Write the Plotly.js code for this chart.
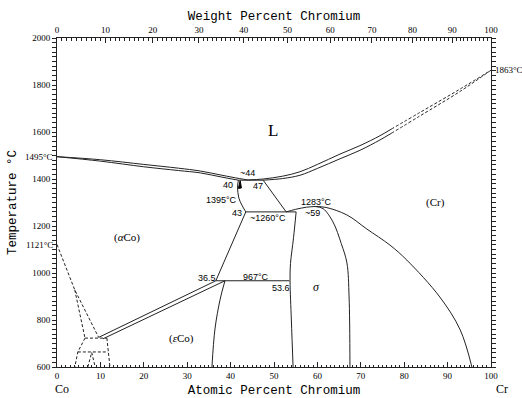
<!DOCTYPE html>
<html><head><meta charset="utf-8">
<script src="https://cdn.plot.ly/plotly-3.0.1.min.js"></script>
<style>body{margin:0;background:#fff}#chart{width:522px;height:398px}</style>
</head><body><div id="chart"></div>
<script>
// ---------- data (atomic % Cr, temperature °C) ----------
const liqLeftX = [0, 10, 20, 28, 33, 38, 42, 44];
const liqLeftT = [1495, 1482, 1462, 1446, 1434, 1416, 1402, 1396];
const solLeftX = [0, 10, 20, 28, 33, 38, 41.8];
const solLeftT = [1495, 1476, 1452, 1436, 1426, 1408, 1395];
const eutX = [41.8, 47.5];
const eutT = [1395, 1395];
const liqRightX = [44, 47.5, 52, 56, 60, 65.2, 69.8, 74.4, 77];
const liqRightT = [1396, 1400, 1412, 1431, 1462, 1506, 1542, 1584, 1612];
const liqRightDashX = [77, 83.6, 92.9, 100];
const liqRightDashT = [1612, 1683, 1783, 1863];
const solRightX = [47.5, 52, 56, 60, 65.2, 69.8, 74.4, 77];
const solRightT = [1395, 1402, 1416, 1445, 1486, 1522, 1566, 1594];
const solRightDashX = [77, 83.6, 92.9, 100];
const solRightDashT = [1594, 1668, 1773, 1863];
const crDropX = [47.5, 52.8];
const crDropT = [1395, 1260];
const crLeftX = [52.8, 55, 57.5, 59.5];
const crLeftT = [1260, 1271, 1280, 1283];
const crRightX = [59.5, 62, 66.8, 71.4, 76.7, 80.6, 88.2, 92.9, 95.6];
const crRightT = [1283, 1279, 1247, 1187, 1119, 1055, 898, 758, 600];
const sigRightX = [59.5, 61.3, 63.6, 65.5, 66.8, 67.3, 67.5];
const sigRightT = [1283, 1274, 1217, 1125, 1043, 898, 600];
const sigLeftX = [55.1, 54.5, 53.8, 53.7, 54.0, 54.4];
const sigLeftT = [1260, 1150, 1040, 967, 800, 600];
const perX = [43.5, 55.1];
const perT = [1260, 1260];
const aCoX = [43.5, 36.6];
const aCoT = [1260, 967];
const solvusX = [41.8, 41.6, 41.9, 42.6, 43.5];
const solvusT = [1395, 1366, 1319, 1289, 1260];
const wedgeX = [42.2, 41.8, 42.5, 42.2];
const wedgeT = [1393, 1360, 1362, 1393];
const eut967X = [36.6, 53.6];
const eut967T = [967, 967];
const dblUpperX = [36.6, 9.6];
const dblUpperT = [967, 726];
const dblLowerX = [38.7, 10.6];
const dblLowerT = [967, 720];
const epsRightX = [38.7, 37.6, 36.4, 35.7];
const epsRightT = [967, 889, 762, 600];
// dashed lines on the Co side
const curieX = [0, 4.1, 9.6];
const curieT = [1121, 928, 726];
const branchX = [4.1, 6.45];
const branchT = [928, 723];
const h723X = [6.45, 11.5];
const h723T = [723, 723];
const lowLeftX = [6.45, 4.8, 4.1];
const lowLeftT = [723, 664, 600];
const lowRightX = [11.5, 11.8, 12.2];
const lowRightT = [723, 664, 600];
const h664X = [4.8, 11.8];
const h664T = [664, 664];
const vX = [7.1, 8.0, 8.8];
const vT = [600, 662, 600];

// axis tick labels
const atTicks = [0, 10, 20, 30, 40, 50, 60, 70, 80, 90, 100];
const tTicks = [600, 800, 1000, 1200, 1400, 1600, 1800, 2000];
const wtTicks = [0, 10, 20, 30, 40, 50, 60, 70, 80, 90, 100];

const M_CR = 51.996, M_CO = 58.933;
function wtToAt(w) {
  if (w <= 0) return 0;
  if (w >= 100) return 100;
  const a = w / M_CR, b = (100 - w) / M_CO;
  return 100 * a / (a + b);
}
const wtMinor = [];
for (let w = 0; w <= 100; w++) wtMinor.push(wtToAt(w));

const LC = '#222';
function ln(x, y, dash, smooth) {
  const l = {color: LC, width: 1, dash: dash || 'solid'};
  if (smooth) { l.shape = 'spline'; l.smoothing = 1; }
  return {x: x, y: y, type: 'scatter', mode: 'lines', hoverinfo: 'skip', showlegend: false, line: l};
}
const DSH = '3px,2px';
const traces = [
  ln(liqLeftX, liqLeftT, null, true), ln(solLeftX, solLeftT, null, true), ln(eutX, eutT),
  ln(liqRightX, liqRightT, null, true), ln(liqRightDashX, liqRightDashT, DSH, true),
  ln(solRightX, solRightT, null, true), ln(solRightDashX, solRightDashT, DSH, true),
  ln(crDropX, crDropT), ln(crLeftX, crLeftT, null, true), ln(crRightX, crRightT, null, true),
  ln(sigRightX, sigRightT, null, true), ln(sigLeftX, sigLeftT, null, true),
  ln(perX, perT), ln(aCoX, aCoT), ln(solvusX, solvusT, null, true),
  ln(eut967X, eut967T), ln(dblUpperX, dblUpperT), ln(dblLowerX, dblLowerT),
  ln(epsRightX, epsRightT, null, true),
  ln(curieX, curieT, DSH), ln(branchX, branchT, DSH), ln(h723X, h723T, DSH),
  ln(lowLeftX, lowLeftT, DSH), ln(lowRightX, lowRightT, DSH), ln(h664X, h664T, DSH),
  ln(vX, vT, DSH),
  {x: wedgeX, y: wedgeT, type: 'scatter', mode: 'lines', fill: 'toself', fillcolor: '#000',
   line: {color: '#000', width: 1}, hoverinfo: 'skip', showlegend: false},
  {x: [], y: [], xaxis: 'x2', type: 'scatter', showlegend: false}
];

const SANS = 'Liberation Sans, Arial, sans-serif';
const SERIF = 'Liberation Serif, Times New Roman, serif';
const MONO = 'Liberation Mono, Courier New, monospace';
function lab(text, x, y, size, family, xanchor) {
  return {text: text, x: x, y: y, xref: 'x', yref: 'y', showarrow: false,
    font: {size: size || 9, family: family || SANS, color: '#000'},
    xanchor: xanchor || 'center', yanchor: 'middle'};
}
const annotations = [
  lab('L', 49.8, 1608, 17, SERIF),
  lab('(<i>α</i>Co)', 16.1, 1149, 11, SERIF),
  lab('(<i>ε</i>Co)', 28.8, 723, 11, SERIF),
  lab('(Cr)', 87.3, 1302, 11, SERIF),
  lab('<i>σ</i>', 59.9, 940, 12, SERIF),
  lab('~44', 43.8, 1425),
  lab('40', 39.4, 1374),
  lab('47', 46.3, 1370),
  lab('1395°C', 38.0, 1311),
  lab('43', 41.5, 1255),
  lab('~1260°C', 48.6, 1234),
  lab('1283°C', 59.9, 1302),
  lab('~59', 58.8, 1255),
  lab('36.5', 34.6, 979),
  lab('967°C', 45.9, 983),
  lab('53.6', 51.6, 936),
  {text: '1495°C', x: -0.004, xref: 'paper', y: 1495, yref: 'y', xanchor: 'right', showarrow: false,
   font: {size: 9, family: SERIF, color: '#000'}},
  {text: '1121°C', x: -0.004, xref: 'paper', y: 1121, yref: 'y', xanchor: 'right', showarrow: false,
   font: {size: 9, family: SERIF, color: '#000'}},
  {text: '1863°C', x: 1.004, xref: 'paper', y: 1863, yref: 'y', xanchor: 'left', showarrow: false,
   font: {size: 9, family: SERIF, color: '#000'}},
  {text: 'Co', x: 0.012, xref: 'paper', y: -0.066, yref: 'paper', xanchor: 'center', yanchor: 'middle', showarrow: false,
   font: {size: 12, family: SERIF, color: '#000'}},
  {text: 'Cr', x: 1.025, xref: 'paper', y: -0.066, yref: 'paper', xanchor: 'center', yanchor: 'middle', showarrow: false,
   font: {size: 12, family: SERIF, color: '#000'}}
];

const layout = {
  width: 522, height: 398,
  margin: {l: 57, r: 31, t: 38, b: 31, pad: 0},
  paper_bgcolor: '#fff', plot_bgcolor: '#fff',
  showlegend: false,
  annotations: annotations,
  xaxis: {
    range: [0, 100], tickmode: 'array', tickvals: atTicks, ticktext: atTicks.map(String),
    ticks: 'inside', ticklen: 5, tickcolor: LC, showgrid: false, zeroline: false,
    showline: true, linecolor: LC, linewidth: 1, mirror: false,
    tickfont: {size: 9, family: SERIF, color: '#000'},
    minor: {dtick: 1, tick0: 0, ticks: 'inside', ticklen: 2.5, tickcolor: LC, showgrid: false},
    title: {text: 'Atomic Percent Chromium', font: {size: 12.5, family: MONO, color: '#000'}, standoff: 6},
    fixedrange: true
  },
  xaxis2: {
    overlaying: 'x', side: 'top', range: [0, 100], anchor: 'y',
    tickmode: 'array', tickvals: wtTicks.map(wtToAt), ticktext: wtTicks.map(String),
    ticks: 'inside', ticklen: 5, tickcolor: LC, showgrid: false, zeroline: false,
    showline: true, linecolor: LC, linewidth: 1,
    tickfont: {size: 9, family: SERIF, color: '#000'},
    minor: {tickmode: 'array', tickvals: wtMinor, ticks: 'inside', ticklen: 2.5, tickcolor: LC, showgrid: false},
    title: {text: 'Weight Percent Chromium', font: {size: 12.5, family: MONO, color: '#000'}, standoff: 2}
  },
  yaxis: {
    range: [600, 2000], tickmode: 'array', tickvals: tTicks, ticktext: tTicks.map(String),
    ticks: 'outside', ticklen: 4, tickcolor: LC, showgrid: false, zeroline: false,
    showline: true, linecolor: LC, linewidth: 1, mirror: 'allticks',
    tickfont: {size: 9, family: SERIF, color: '#000'},
    minor: {dtick: 20, tick0: 600, ticks: 'outside', ticklen: 2.5, tickcolor: LC, showgrid: false},
    title: {text: 'Temperature °C', font: {size: 12.5, family: MONO, color: '#000'}, standoff: 12},
    fixedrange: true
  }
};

Plotly.newPlot('chart', traces, layout, {staticPlot: true, displayModeBar: false});
</script></body></html>
